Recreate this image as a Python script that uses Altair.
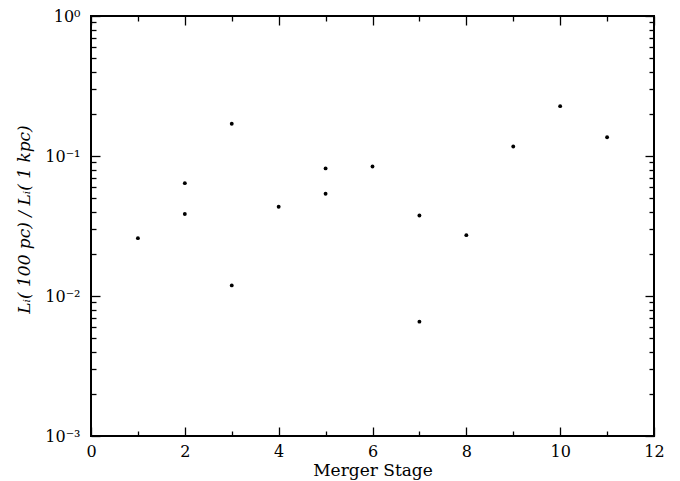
import altair as alt
import pandas as pd

# Data
stage = [1, 2, 2, 3, 3, 4, 5, 5, 6, 7, 7, 8, 9, 10, 11]
ratio = [0.0259, 0.064, 0.0385, 0.170, 0.0119, 0.0434, 0.0815, 0.0537,
         0.0842, 0.0376, 0.00656, 0.0272, 0.117, 0.227, 0.136]

x_major = [0, 2, 4, 6, 8, 10, 12]
x_minor = [1, 3, 5, 7, 9, 11]
y_major = [0.001, 0.01, 0.1, 1]
y_minor = [k * 10.0 ** e for e in (-3, -2, -1) for k in range(2, 10)]

df = pd.DataFrame({"stage": stage, "ratio": ratio})

FONT = "DejaVu Serif"
W, H = 563, 420

xs = alt.Scale(domain=[0, 12], nice=False, zero=False)
ys = alt.Scale(type="log", domain=[0.001, 1], nice=False)

ylabel_expr = ("datum.value >= 0.5 ? '10⁰' : datum.value >= 0.05 ? '10⁻¹' : "
               "datum.value >= 0.005 ? '10⁻²' : '10⁻³'")

main = alt.Chart(df).mark_circle(size=15, color="black", opacity=1).encode(
    x=alt.X("stage:Q", scale=xs, axis=alt.Axis(
        values=x_major, ticks=False, tickSize=0, domain=False, grid=False,
        labelFont=FONT, labelFontSize=16, labelColor="black", labelPadding=7,
        title="Merger Stage", titleFont=FONT, titleFontSize=17,
        titleFontWeight="normal", titleColor="black", titlePadding=3,
        labelFlush=False)),
    y=alt.Y("ratio:Q", scale=ys, axis=alt.Axis(
        values=y_major, ticks=False, tickSize=0, domain=False, grid=False,
        labelExpr=ylabel_expr, labelFont=FONT, labelFontSize=16,
        labelColor="black", labelPadding=11, labelFlush=False,
        title="Lᵢ( 100 pc)  /  Lᵢ( 1 kpc)", titleFont=FONT, titleFontSize=17,
        titleFontStyle="italic", titleFontWeight="normal", titleColor="black",
        titlePadding=11, titleY=203)),
)


def tick_axis(orient, values, size):
    return alt.Axis(orient=orient, values=values, tickSize=size, offset=-size,
                    ticks=True, labels=False, domain=False, grid=False,
                    title=None, tickColor="black", tickWidth=1.3)


layers = [main]
for orient in ("bottom", "top"):
    for vals, size in ((x_major, 9), (x_minor, 5)):
        layers.append(alt.Chart(df).mark_point(opacity=0).encode(
            x=alt.X("stage:Q", scale=xs, axis=tick_axis(orient, vals, size)),
            y=alt.Y("ratio:Q", scale=ys, axis=None)))
for orient in ("left", "right"):
    for vals, size in ((y_major, 9), (y_minor, 5)):
        layers.append(alt.Chart(df).mark_point(opacity=0).encode(
            x=alt.X("stage:Q", scale=xs, axis=None),
            y=alt.Y("ratio:Q", scale=ys, axis=tick_axis(orient, vals, size))))

chart = alt.layer(*layers).resolve_axis(
    x="independent", y="independent"
).properties(
    width=W, height=H,
    autosize=alt.AutoSizeParams(type="none"),
    padding={"left": 83, "top": 8, "right": 10, "bottom": 45},
).configure_view(stroke="black", strokeWidth=2)

chart.save("out.html", embed_options={"renderer": "svg", "actions": False})
